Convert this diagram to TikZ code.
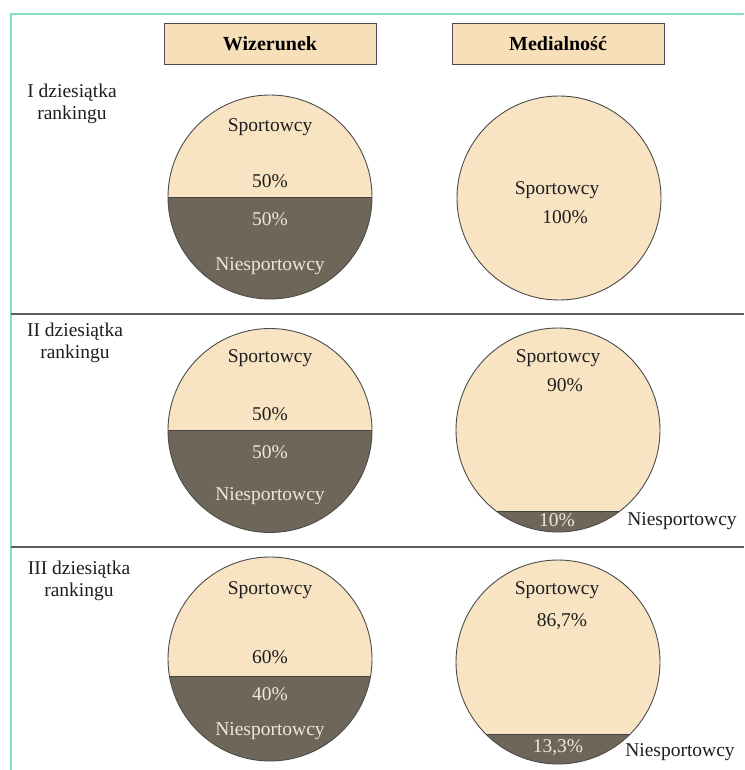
\documentclass[tikz,border=0pt]{standalone}
\usepackage{fontspec}
\setmainfont{Liberation Serif}
\definecolor{lightpart}{HTML}{F8E4C3}
\definecolor{headfill}{HTML}{F6DFB9}
\definecolor{darkpart}{HTML}{6D6659}
\definecolor{framecol}{HTML}{80E2C4}
\definecolor{sepcol}{HTML}{5E5E5E}
\definecolor{whitetxt}{HTML}{EFE8DA}
\definecolor{blacktxt}{HTML}{1E1E1E}
\newcommand\mypieseg[3]{%
  \begin{scope}
    \clip (#1,#2) circle[radius=102];
    \fill[lightpart] (#1-110,#2-110) rectangle (#1+110,#3);
    \fill[darkpart] (#1-110,#3) rectangle (#1+110,#2+110);
    \draw[chordline] (#1-110,#3) -- (#1+110,#3);
  \end{scope}
  \draw[rim] (#1,#2) circle[radius=102];
}
\begin{document}
\begin{tikzpicture}[x=1pt,y=-1pt,
  font=\fontsize{19.5}{22}\selectfont,
  rim/.style={draw=black!70, line width=0.9pt},
  chordline/.style={draw=black!75, line width=0.9pt},
  headbox/.style={draw=black!70, line width=0.9pt, fill=headfill, minimum width=212pt, minimum height=41pt, inner sep=0pt, font=\fontsize{20}{22}\selectfont\bfseries},
  dtxt/.style={text=blacktxt, inner sep=0pt},
  wtxt/.style={text=whitetxt, inner sep=0pt},
  rowlab/.style={text=blacktxt, inner sep=0pt, align=center, anchor=north},
  seprule/.style={draw=sepcol, line width=1.6pt},
  framerule/.style={draw=framecol, line width=2pt}]
\useasboundingbox[fill=white] (0,0) rectangle (744,770);
% frame
\coordinate (ftr) at (744,14);
\coordinate (ftl) at (11,14);
\coordinate (fbl) at (11,770);
\draw[framerule] (ftr) -- (ftl) -- (fbl);
% separators
\coordinate (s1a) at (11,314);
\coordinate (s1b) at (744,314);
\coordinate (s2a) at (11,547);
\coordinate (s2b) at (744,547);
\draw[seprule] (s1a) -- (s1b);
\draw[seprule] (s2a) -- (s2b);
% headers
\node[headbox] (h1) at (270,43.5) {Wizerunek};
\node[headbox] (h2) at (558,43.5) {Medialność};
% row labels
\node[rowlab] (r1) at (72,84) {I dziesiątka\\rankingu};
\node[rowlab] (r2) at (75,323) {II dziesiątka\\rankingu};
\node[rowlab] (r3) at (79,561) {III dziesiątka\\rankingu};
% row 1
\mypieseg{270}{197}{197}
\node[dtxt] (a1) at (270,127) {Sportowcy};
\node[dtxt] (a2) at (270,181) {50\%};
\node[wtxt] (a3) at (270,219) {50\%};
\node[wtxt] (a4) at (270,266) {Niesportowcy};
\fill[lightpart] (559,198) circle[radius=102];
\draw[rim] (559,198) circle[radius=102];
\node[dtxt] (b1) at (557,190) {Sportowcy};
\node[dtxt] (b2) at (565,217) {100\%};
% row 2
\mypieseg{270}{430.5}{430}
\node[dtxt] (c1) at (270,358) {Sportowcy};
\node[dtxt] (c2) at (270,414) {50\%};
\node[wtxt] (c3) at (270,452) {50\%};
\node[wtxt] (c4) at (270,496) {Niesportowcy};
\mypieseg{558}{430}{511}
\node[dtxt] (d1) at (558,358) {Sportowcy};
\node[dtxt] (d2) at (565,385) {90\%};
\node[wtxt] (d3) at (557,520) {10\%};
\node[dtxt] (d4) at (682,521) {Niesportowcy};
% row 3
\mypieseg{270}{659}{676}
\node[dtxt] (e1) at (270,590) {Sportowcy};
\node[dtxt] (e2) at (270,657) {60\%};
\node[wtxt] (e3) at (270,694) {40\%};
\node[wtxt] (e4) at (270,731) {Niesportowcy};
\mypieseg{558}{662}{734}
\node[dtxt] (f1) at (557,590) {Sportowcy};
\node[dtxt] (f2) at (562,622) {86,7\%};
\node[wtxt] (f3) at (558,748) {13,3\%};
\node[dtxt] (f4) at (680,752) {Niesportowcy};
\end{tikzpicture}
\end{document}
